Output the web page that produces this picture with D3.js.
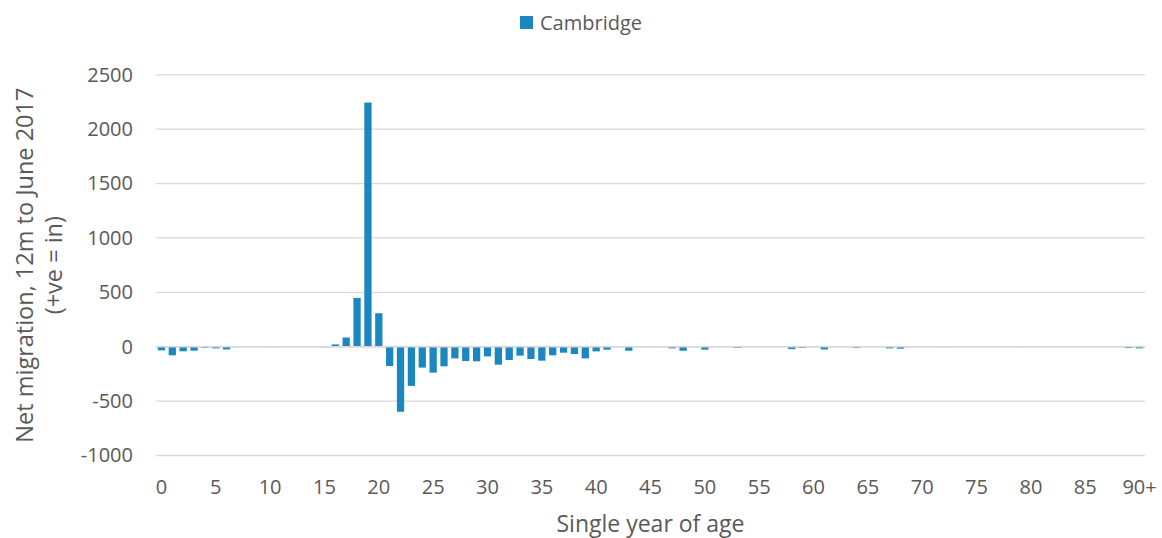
<!DOCTYPE html>
<html>
<head>
<meta charset="utf-8">
<script src="https://cdn.jsdelivr.net/npm/d3@7"></script>
<style>
  html, body { margin: 0; padding: 0; background: #ffffff; }
  svg { display: block; }
  text { font-family: "Open Sans", sans-serif; fill: #595959; }
</style>
</head>
<body>
<svg id="chart" width="1162" height="538"></svg>
<script>
// ---- Data ----
const ages = d3.range(0, 91);
const ageLabels = ages.map(a => a === 90 ? "90+" : String(a));
const seriesName = "Cambridge";
const netMigration = [
  -33, -79, -42, -36, -10, -15, -25, 0, 0, 0,
  -4, 0, 0, 0, 0, -4, 21, 85, 449, 2245,
  308, -177, -598, -360, -192, -238, -180, -107, -131, -134,
  -89, -165, -122, -82, -113, -128, -79, -55, -67, -107,
  -43, -27, 0, -37, 0, -4, 0, -15, -37, 0,
  -27, 0, 0, -10, 0, 0, 0, 0, -22, -10,
  0, -25, 0, 0, -10, 6, 0, -15, -18, 0,
  0, 0, -4, 0, 0, 0, 0, 0, 0, -4,
  0, 0, 0, 0, 0, 0, 0, 0, 0, -12,
  -15
];
const yTicks = [-1000, -500, 0, 500, 1000, 1500, 2000, 2500];
const xTickEvery = 5;
const yTitleLines = ["Net migration, 12m to June 2017", "(+ve = in)"];
const xTitle = "Single year of age";

// ---- Layout ----
const svg = d3.select("#chart");
const plot = { left: 156, right: 1145, top: 74.8, bottom: 455.5 };
const barColor = "#1b87c0";
const gridColor = "#d9d9d9";

const x = d3.scaleBand()
  .domain(ageLabels)
  .range([plot.left, plot.right])
  .paddingInner(0.33)
  .paddingOuter(0.165);

const y = d3.scaleLinear()
  .domain([-1000, 2500])
  .range([plot.bottom, plot.top]);

// gridlines
svg.append("g")
  .selectAll("line")
  .data(yTicks)
  .join("line")
  .attr("x1", plot.left)
  .attr("x2", plot.right)
  .attr("y1", d => y(d))
  .attr("y2", d => y(d))
  .attr("stroke", gridColor)
  .attr("stroke-width", 1.3);

// y axis labels (plain hyphen minus, as in the reference)
const yAxis = d3.axisLeft(y).tickValues(yTicks).tickSize(0).tickPadding(0).tickFormat(d => String(d));
const yG = svg.append("g").attr("transform", `translate(133,0)`).call(yAxis);
yG.select(".domain").remove();
yG.selectAll("text")
  .style("font-family", "'Open Sans', sans-serif")
  .style("font-size", "20px")
  .attr("fill", "#595959");

// bars
svg.append("g")
  .selectAll("rect")
  .data(netMigration.map((v, i) => ({ label: ageLabels[i], v })))
  .join("rect")
  .attr("x", d => x(d.label))
  .attr("width", x.bandwidth())
  .attr("y", d => Math.min(y(0), y(d.v)))
  .attr("height", d => Math.abs(y(d.v) - y(0)))
  .attr("fill", barColor);

// zero line (drawn over bars like Excel's axis)
svg.append("line")
  .attr("x1", plot.left).attr("x2", plot.right)
  .attr("y1", y(0)).attr("y2", y(0))
  .attr("stroke", gridColor).attr("stroke-width", 1.3);

// x axis labels
const xAxis = d3.axisBottom(x)
  .tickValues(ageLabels.filter((d, i) => i % xTickEvery === 0))
  .tickSize(0).tickPadding(0);
const xG = svg.append("g").attr("transform", `translate(0,${plot.bottom})`).call(xAxis);
xG.select(".domain").remove();
xG.selectAll("text")
  .attr("dy", null)
  .attr("y", 38.5)
  .style("font-family", "'Open Sans', sans-serif")
  .style("font-size", "20px")
  .attr("fill", "#595959");

// x title
svg.append("text")
  .attr("x", (plot.left + plot.right) / 2)
  .attr("y", 531.5)
  .attr("text-anchor", "middle")
  .style("font-size", "23px")
  .text(xTitle);

// y title
const yMid = (plot.top + plot.bottom) / 2;
const yTitle = svg.append("text")
  .attr("transform", `translate(0,${yMid}) rotate(-90)`)
  .attr("text-anchor", "middle")
  .style("font-size", "23.5px");
yTitle.selectAll("tspan")
  .data(yTitleLines)
  .join("tspan")
  .attr("x", 0)
  .attr("y", (d, i) => 33 + i * 29)
  .text(d => d);

// legend
const legend = svg.append("g");
legend.append("rect")
  .attr("x", 520).attr("y", 16).attr("width", 13).attr("height", 13)
  .attr("fill", barColor);
legend.append("text")
  .attr("x", 540).attr("y", 29.5)
  .style("font-size", "20px")
  .text(seriesName);
</script>
</body>
</html>
